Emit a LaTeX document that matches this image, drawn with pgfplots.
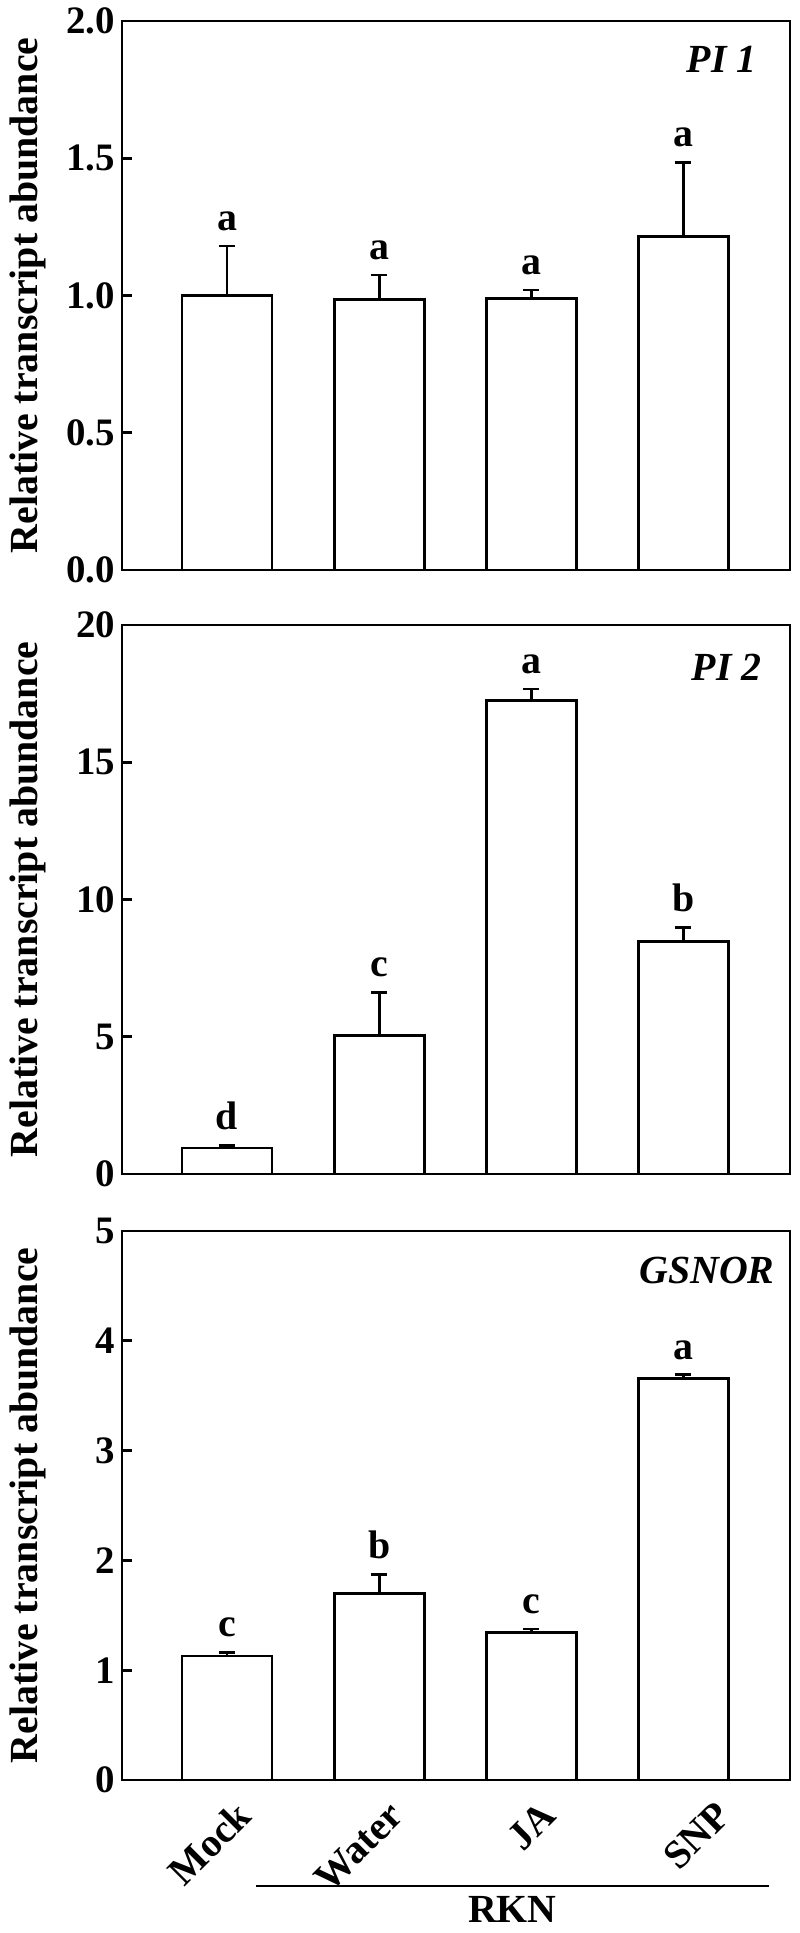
\documentclass[border=0pt]{standalone}
\usepackage{pgfplots}
\pgfplotsset{compat=1.18}
\usepackage{pgfplotstable}
\usepackage{fontspec}
\setmainfont{Liberation Serif}

% x = group, y = mean, err = SE, lab = letter
\pgfplotstableread{
x y err lab
1 1.000 0.18 a
2 0.985 0.09 a
3 0.990 0.03 a
4 1.215 0.27 a
}\pione
\pgfplotstableread{
x y err lab
1 0.95 0.09 d
2 5.06 1.56 c
3 17.24 0.43 a
4 8.47 0.50 b
}\pitwo
\pgfplotstableread{
x y err lab
1 1.13 0.03 c
2 1.70 0.17 b
3 1.345 0.03 c
4 3.66 0.03 a
}\gsnor

\pgfplotsset{
  panel/.style={
    scale only axis, width=334bp, height=274.5bp,
    xmin=0.31, xmax=4.70, ymin=0,
    ybar, bar width=45bp, bar shift=0pt,
    axis line style={line width=1.4bp},
    tick style={line width=1.4bp, black},
    tick align=inside, ytick pos=left, major tick length=5bp,
    xtick=\empty,
    /pgf/number format/assume math mode=true,
    yticklabel style={font=\bfseries\fontsize{19.5}{20}\selectfont},
    ylabel={Relative transcript abundance},
    ylabel style={font=\bfseries\fontsize{20}{20}\selectfont,
      at={(axis description cs:-0.141,0.5)}, anchor=center},
    clip=false,
  },
  bars/.style={fill=white, draw=black, line width=1.4bp, bar shift=0pt,
    error bars/.cd, y dir=plus, y explicit,
    error bar style={line width=1.4bp},
    error mark options={rotate=90, line width=1.4bp, mark size=4bp}},
  letters/.style={draw=none, fill=none, bar shift=0pt,
    nodes near coords, point meta=explicit symbolic,
    nodes near coords style={font=\bfseries\fontsize{20}{20}\selectfont,
      anchor=south, inner sep=3bp, yshift=4.5bp}},
}
\tikzset{gene/.style={anchor=base east, inner sep=0pt,
    font=\bfseries\itshape\fontsize{20}{20}\selectfont}}

\begin{document}
\begin{tikzpicture}
\useasboundingbox (-61bp,10.5bp) rectangle (339bp,-956bp);

\begin{axis}[panel, at={(0,0)}, anchor=north west,
  ymax=2, ytick={0,0.5,...,2},
  yticklabel style={/pgf/number format/.cd, fixed, fixed zerofill, precision=1}]
  \addplot[bars] table[x=x, y=y, y error=err] {\pione};
  \addplot[letters] table[x=x, y expr=\thisrow{y}+\thisrow{err}, meta=lab] {\pione};
  \node[gene] at ([xshift=-16.5bp, yshift=-26bp]rel axis cs:1,1) {PI 1};
\end{axis}

\begin{axis}[panel, at={(0,-302bp)}, anchor=north west,
  ymax=20, ytick={0,5,...,20}]
  \addplot[bars] table[x=x, y=y, y error=err] {\pitwo};
  \addplot[letters] table[x=x, y expr=\thisrow{y}+\thisrow{err}, meta=lab] {\pitwo};
  \node[gene] at ([xshift=-14bp, yshift=-27.5bp]rel axis cs:1,1) {PI 2};
\end{axis}

\begin{axis}[panel, at={(0,-605bp)}, anchor=north west,
  ymax=5, ytick={0,1,...,5},
  xtick={1,2,3,4.15}, xticklabels={Mock,Water,JA,SNP},
  x tick style={draw=none},
  xticklabel style={font=\bfseries\fontsize{20}{20}\selectfont,
    xshift=11bp, yshift=-12bp, rotate=45, anchor=east}]
  \addplot[bars] table[x=x, y=y, y error=err] {\gsnor};
  \addplot[letters] table[x=x, y expr=\thisrow{y}+\thisrow{err}, meta=lab] {\gsnor};
  \node[gene] at ([xshift=-7.5bp, yshift=-26bp]rel axis cs:1,1) {GSNOR};
  \draw[line width=1bp] ([yshift=-53bp]axis cs:1.19,0) -- ([yshift=-53bp]axis cs:4.56,0);
  \node[anchor=north, inner sep=0pt, font=\bfseries\fontsize{20}{20}\selectfont]
    at ([yshift=-58bp]axis cs:2.875,0) {RKN};
\end{axis}
\end{tikzpicture}
\end{document}
